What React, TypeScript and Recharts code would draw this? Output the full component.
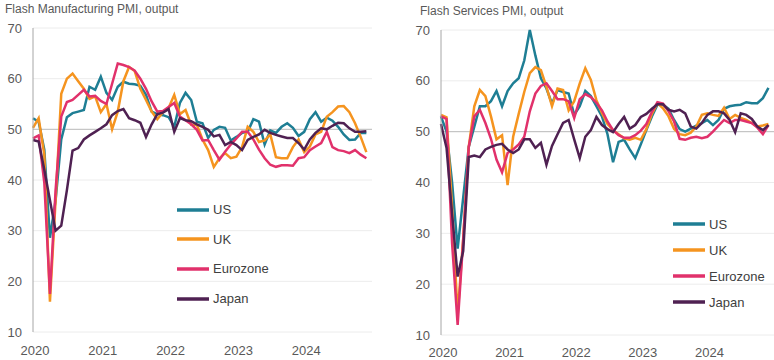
import { LineChart, Line, XAxis, YAxis, CartesianGrid, ReferenceLine, Legend } from 'recharts'

const years = ['2020', '2021', '2022', '2023', '2024']
const yearTicks = [0, 12, 24, 36, 48]
const yTicks = [10, 20, 30, 40, 50, 60, 70]
const seriesNames = ['US', 'UK', 'Eurozone', 'Japan']
const seriesKeys = ['us', 'uk', 'ez', 'jp']
const seriesColors = ['#1e7e94', '#f5941f', '#e1316b', '#4f2152']

// Flash manufacturing PMI output, monthly Jan 2020 - Dec 2024
const mfgUS = [
  52.2, 51.5, 46, 28.6, 36, 48, 52.4, 53.2, 53.5, 53.8,
  58.4, 57.8, 60.4, 57.2, 55.8, 58.4, 59.4, 59, 58.9, 58.6,
  56.8, 53.5, 53, 52.8, 52.4, 50.5, 55.2, 57.2, 55.8, 51.5,
  51.2, 48.3, 49.9, 50.5, 50.3, 47.8, 48.5, 49.3, 49.5, 52,
  51.5, 47, 49.8, 49.3, 50.5, 51.2, 50.3, 48.7, 49.5, 52,
  53.4, 51.5, 52.3, 51.7, 50.5, 49, 47.9, 48, 49.3, 49.3,
]
const mfgUK = [
  50.3, 52.2, 45, 16, 36, 57, 60, 61, 59.5, 58,
  56, 56.5, 53.4, 55, 50, 53.5, 59.5, 62.3, 61.5, 58,
  55.8, 53.5, 52, 53.4, 54.2, 56.8, 53, 53.8, 50.9, 50.9,
  48, 45.9, 42.6, 44.3, 45.3, 44.3, 44.6, 46.5, 50.5, 49.5,
  47.5, 47.8, 49, 44.5, 44.3, 44.3, 46.5, 48, 45.5, 46.6,
  49, 49.5, 52.5, 53.4, 54.5, 54.6, 53.4, 51.2, 48.5, 45.5,
]
const mfgEZ = [
  48.2, 48.8, 39.5, 17.5, 38, 52.5, 55.4, 55.8, 56.8, 57.8,
  56.5, 56.6, 55.6, 55, 59, 63, 62.7, 62.3, 61.6, 60,
  58, 55.5, 53.5, 53.6, 54.4, 55.2, 52.5, 51.8, 51, 49.9,
  47.8, 47.9, 45.9, 44, 45.6, 47, 48.2, 49.5, 49.5, 48,
  46, 44.3, 43, 42.6, 42.9, 42.9, 42.8, 44.3, 44.5, 45.9,
  46.6, 47.3, 49.5, 46.5, 45.9, 45.7, 45.3, 45.9, 45, 44.3,
]
const mfgJP = [
  47.9, 47.6, 42, 36, 30, 31, 38, 45.8, 46.3, 48,
  48.8, 49.5, 50.2, 51, 52.8, 53.6, 54, 52.2, 51.8, 51.3,
  48.5, 51, 53, 53.3, 54, 49.5, 52.2, 51.8, 51.6, 51,
  50.5, 49.9, 48.6, 48.9, 46.9, 47.5, 46.9, 45.9, 47.9, 48.5,
  49, 49.9, 49.3, 48.9, 48.6, 48.3, 48.3, 47.3, 46, 48,
  49.3, 50.2, 50, 50.7, 51.3, 51.2, 50.2, 49.5, 49.5, 49.6,
]

// Flash services PMI output, monthly Jan 2020 - Dec 2024
const svcUS = [
  53, 50, 40, 27, 37, 47, 51, 55, 55, 56,
  58, 55, 58, 59.5, 60.5, 64, 70, 65, 60.5, 58.5,
  55.5, 58.2, 57.8, 57.5, 53.3, 55, 58, 57, 55, 53,
  49.5, 44, 48, 48.4, 46.5, 44.8, 47.5, 50.3, 53, 55.3,
  55.3, 54.5, 52.3, 50.5, 50, 50.6, 51.2, 51.7, 52.3, 51.3,
  52.3, 54.5, 55, 55.2, 55.3, 55.8, 55.6, 55.6, 56.6, 58.6,
]
const svcUK = [
  53.3, 52.8, 35, 14, 29, 47, 55, 58.2, 57, 53,
  48.5, 49.3, 39.5, 49, 53.5, 57.8, 61.5, 62.7, 62.1, 58.8,
  55, 58.5, 58.2, 54.2, 56, 59.5, 62.5, 60.2, 56.2, 53.7,
  51.5, 50.3, 49.5, 48.7, 48.4, 48.8, 48.4, 50.5, 53.5, 55.6,
  54.6, 53, 50.5, 49.5, 49.3, 49.8, 51, 53.3, 53.6, 53.3,
  53.1, 54.7, 52.5, 53.3, 52.7, 52.3, 51.7, 51, 51.2, 51.5,
]
const svcEZ = [
  53, 52.5, 28, 12, 28.7, 47, 53, 54.3, 51.7, 48.6,
  44.5, 42, 45.8, 46.5, 47.5, 49, 54, 57.5, 59, 59.5,
  58, 56.4, 56.4, 56, 52.7, 56.4, 57.4, 56.8, 55.7, 54.2,
  52, 50.3, 49.3, 48.8, 48.8, 49.3, 50.2, 51.5, 53.9, 55.8,
  55.5, 54, 52, 48.6, 48.4, 48.8, 49, 48.7, 49, 50,
  51.2, 52.3, 51.7, 52.3, 52.3, 52, 51.7, 50.8, 49.5, 51.3,
]
const svcJP = [
  51.5, 46.8, 33.8, 21.5, 26.5, 45, 45.3, 45, 46.5, 47,
  47.4, 47.6, 46.5, 45.8, 46.5, 48.5, 48.5, 46.8, 47.8, 43.5,
  47.2, 49.5, 51.7, 52.3, 48.5, 44.8, 49, 50.3, 52.9, 51.3,
  50.5, 49.9, 51.5, 52.9, 50.6, 51.3, 52.9, 53.5, 54.5, 55.4,
  55.4, 54.3, 54, 54.3, 53.6, 51, 50.6, 51.7, 53.3, 54,
  54, 53.6, 52.3, 49.9, 53.6, 53.3, 52.5, 51, 50.3, 51.3,
]

const mfgRows = mfgUS.map((_, i) => ({ i, us: mfgUS[i], uk: mfgUK[i], ez: mfgEZ[i], jp: mfgJP[i] }))
const svcRows = svcUS.map((_, i) => ({ i, us: svcUS[i], uk: svcUK[i], ez: svcEZ[i], jp: svcJP[i] }))

const font = '"Liberation Sans", Arial, sans-serif'
const textColor = '#595959'

function LegendBox({ rowH }: { rowH: number }) {
  return (
    <div>
      {seriesNames.map((n, k) => (
        <div key={n} style={{ height: rowH, display: 'flex', alignItems: 'center' }}>
          <svg width={32} height={4}>
            <line x1={0} y1={2} x2={32} y2={2} stroke={seriesColors[k]} strokeWidth={3.5} />
          </svg>
          <span style={{ marginLeft: 4, fontSize: 13, color: '#404040', fontFamily: font }}>{n}</span>
        </div>
      ))}
    </div>
  )
}

type PanelProps = {
  rows: typeof mfgRows
  left: number
  top: number
  right: number
  yWidth: number
  xHeight: number
  legendPos: { left: number; top: number }
  rowH: number
}

function Panel({ rows, left, top, right, yWidth, xHeight, legendPos, rowH }: PanelProps) {
  return (
    <LineChart
      width={387}
      height={360}
      data={rows}
      margin={{ top, right, bottom: 0, left: 0 }}
      style={{ position: 'absolute', left, top: 0 }}
    >
      <CartesianGrid vertical={false} stroke="#ececec" />
      <XAxis
        type="number"
        dataKey="i"
        domain={[0, 60]}
        ticks={yearTicks}
        tickFormatter={(v: number) => years[v / 12]}
        axisLine={false}
        tickLine={false}
        tickSize={0}
        tickMargin={xHeight === 28 ? 14 : 13}
        height={xHeight}
        tick={{ fill: textColor, fontSize: 13, dx: 2 }}
      />
      <YAxis
        domain={[10, 70]}
        ticks={yTicks}
        width={yWidth}
        axisLine={{ stroke: '#a6a6a6' }}
        tickLine={false}
        tickSize={0}
        tickMargin={11}
        tick={{ fill: textColor, fontSize: 13 }}
      />
      <ReferenceLine y={50} stroke="#bdbdbd" strokeWidth={1} />
      {seriesKeys.map((k, idx) => (
        <Line
          key={k}
          type="linear"
          dataKey={k}
          stroke={seriesColors[idx]}
          strokeWidth={2.5}
          dot={false}
          isAnimationActive={false}
        />
      ))}
      <Legend
        layout="vertical"
        align="center"
        verticalAlign="middle"
        content={() => <LegendBox rowH={rowH} />}
        wrapperStyle={{ left: legendPos.left, top: legendPos.top, width: 'auto', height: 'auto' }}
      />
    </LineChart>
  )
}

export default function App() {
  return (
    <div style={{ position: 'absolute', left: 0, top: 0, width: 774, height: 360, background: '#fff', fontFamily: font }}>
      <div style={{ position: 'absolute', left: 5, top: 2, fontSize: 12, color: textColor }}>
        Flash Manufacturing PMI, output
      </div>
      <div style={{ position: 'absolute', left: 420, top: 4, fontSize: 12, color: textColor }}>
        Flash Services PMI, output
      </div>
      <Panel rows={mfgRows} left={0} top={28} right={15} yWidth={33} xHeight={28} legendPos={{ left: 177, top: 195 }} rowH={29.6} />
      <Panel rows={svcRows} left={387} top={30} right={0} yWidth={54} xHeight={25} legendPos={{ left: 286, top: 211 }} rowH={26} />
    </div>
  )
}
